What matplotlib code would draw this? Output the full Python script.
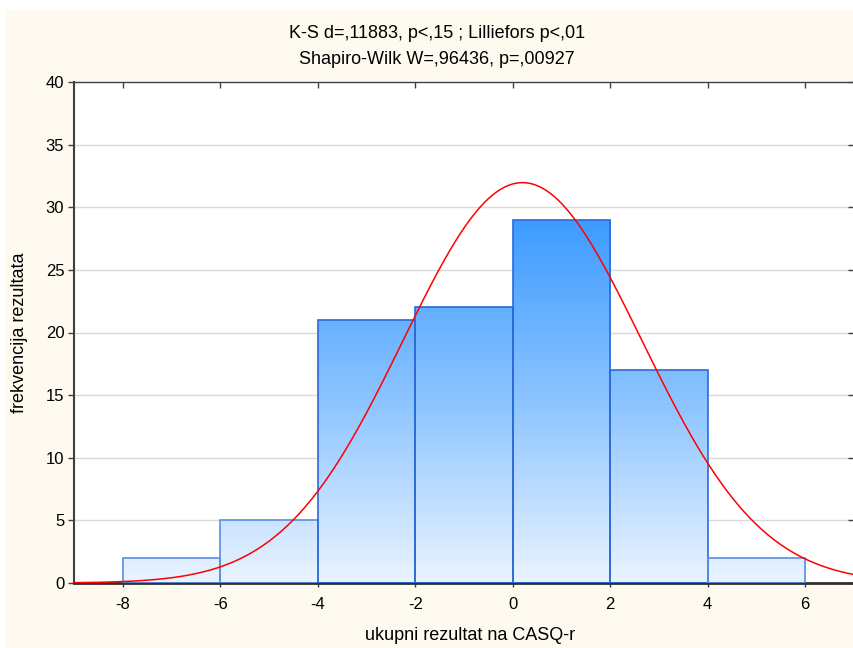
import matplotlib
matplotlib.use('Agg')
import matplotlib.pyplot as plt
import numpy as np
from matplotlib.patches import Rectangle
from matplotlib.colors import LinearSegmentedColormap

plt.rcParams['font.family'] = ['Liberation Sans', 'DejaVu Sans']

# data
bin_edges = [-8, -6, -4, -2, 0, 2, 4, 6]
counts = [2, 5, 21, 22, 29, 17, 2]
fit_mean = 0.2
fit_sd = 2.446
n_total = sum(counts)
title_1 = 'K-S d=,11883, p<,15 ; Lilliefors p<,01'
title_2 = 'Shapiro-Wilk W=,96436, p=,00927'
x_label = 'ukupni rezultat na CASQ-r'
y_label = 'frekvencija rezultata'
x_ticks = [-8, -6, -4, -2, 0, 2, 4, 6]
y_ticks = [0, 5, 10, 15, 20, 25, 30, 35, 40]

fig = plt.figure(figsize=(8.54, 6.48), dpi=100, facecolor='white')
# cream background with thin white strip top and left
fig.patches.append(Rectangle((5 / 854, 0), 1, 1 - 10 / 648, transform=fig.transFigure,
                             facecolor='#fffaf0', edgecolor='none', zorder=-10))

ax = fig.add_axes([74 / 854, 1 - 583 / 648, 780 / 854, (583 - 82) / 648])
ax.set_facecolor('white')

# gradient bars
cmap = LinearSegmentedColormap.from_list('bars', ['#eaf4ff', '#8cc4ff', '#3d9bff'])
grad = np.linspace(0, 1, 256).reshape(-1, 1)
top = max(counts)
for i, c in enumerate(counts):
    x0, x1 = bin_edges[i], bin_edges[i + 1]
    im = ax.imshow(grad, extent=[x0, x1, 0, top], origin='lower', cmap=cmap,
                   aspect='auto', zorder=2)
    r = Rectangle((x0, 0), x1 - x0, c, facecolor='none',
                  edgecolor='#2a6ad8' if c > 10 else '#5a8ee0', lw=1.2, zorder=3)
    ax.add_patch(r)
    im.set_clip_path(r)
ax.set_xlim(-9, 7)
ax.set_ylim(0, 40)

# normal curve
xs = np.linspace(-9, 7, 400)
ys = n_total * 2 / (fit_sd * np.sqrt(2 * np.pi)) * np.exp(-0.5 * ((xs - fit_mean) / fit_sd) ** 2)
ax.plot(xs, ys, color='#ff0000', lw=1.1, zorder=4)

ax.set_yticks(y_ticks)
ax.set_xticks(x_ticks)
ax.set_yticklabels([str(v) for v in y_ticks])
ax.set_xticklabels([str(v) for v in x_ticks])
for v in y_ticks[1:-1]:
    ax.axhline(v, color='#d9d9d9', lw=1, zorder=1)

ax.tick_params(axis='y', direction='out', length=4, width=1, pad=3, labelsize=12,
               right=True, color='#404040')
ax.tick_params(axis='x', direction='out', length=3, width=1, pad=7, labelsize=12,
               top=True, color='#404040')
for t in ax.xaxis.get_major_ticks():
    t.tick2line.set_markersize(4)
    t.tick2line.set_marker(3)  # inward on top
for t in ax.yaxis.get_major_ticks():
    t.tick2line.set_marker(0)  # inward on right

for s in ax.spines.values():
    s.set_color('#404040')
    s.set_linewidth(1)
ax.spines['bottom'].set_linewidth(2)
ax.spines['bottom'].set_color('#303030')
ax.spines['left'].set_linewidth(1.5)

fig.text(437 / 854, 1 - 33 / 648, title_1, ha='center', va='center', fontsize=13)
fig.text(437 / 854, 1 - 60 / 648, title_2, ha='center', va='center', fontsize=13)
fig.text(470 / 854, 1 - 636 / 648, x_label, ha='center', va='center', fontsize=13)
fig.text(20 / 854, 1 - 333 / 648, y_label, ha='center', va='center', fontsize=13,
         rotation=90)

fig.savefig('out.png', dpi=100, facecolor=fig.get_facecolor())
